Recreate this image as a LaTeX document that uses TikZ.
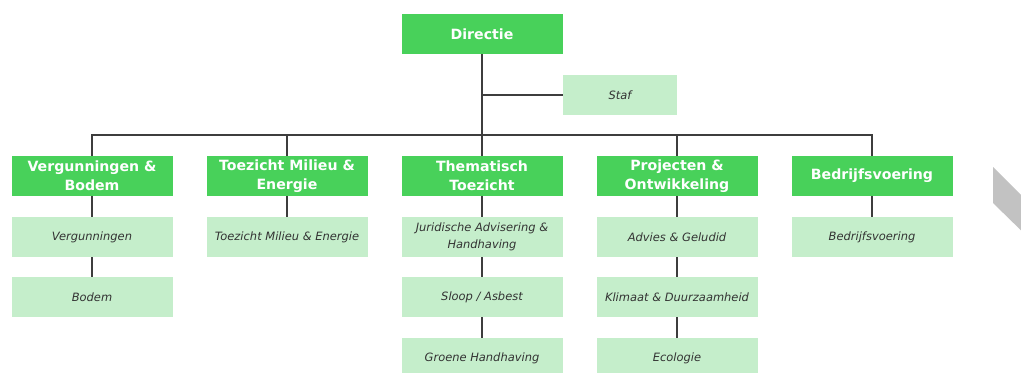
\documentclass[tikz,border=0pt]{standalone}
\usepackage{fontspec}
\setmainfont{DejaVu Sans}
\usepackage{tikz}
\usetikzlibrary{positioning, calc}
\definecolor{deptGreen}{RGB}{72,209,90}
\definecolor{unitGreen}{RGB}{197,238,203}
\definecolor{lineGray}{gray}{0.24}
\definecolor{unitText}{gray}{0.2}
\definecolor{arrowGray}{gray}{0.76}
\tikzset{
    headBox/.style={fill=deptGreen, text=white, minimum width=120.75pt, minimum height=30pt,
        inner sep=0pt, align=center, font=\fontsize{10.6}{14.5}\selectfont\bfseries},
    unitBox/.style={fill=unitGreen, text=unitText, minimum width=120.75pt, minimum height=30pt,
        inner sep=0pt, align=center, font=\fontsize{8.6}{12.5}\selectfont\itshape},
    link/.style={draw=lineGray, line width=1.3pt}
}

\begin{document}
\begin{tikzpicture}[x=0.75pt, y=-0.75pt]
    \clip (0,0) rectangle (1021,372);
    \fill[white] (0,0) rectangle (1021,372);
    % top
    \node[headBox] (dir) at (482,34) {Directie};
    \node[unitBox, minimum width=85.5pt] (staf) at (620,95) {Staf};
    \coordinate (bus) at (482,135);
    % departments
    \node[headBox] (vb)  at (92,176)  {Vergunningen \&\\Bodem};
    \node[headBox] (tme) at (287,176) {Toezicht Milieu \&\\Energie};
    \node[headBox] (tt)  at (482,176) {Thematisch\\Toezicht};
    \node[headBox] (po)  at (677,176) {Projecten \&\\Ontwikkeling};
    \node[headBox] (bv)  at (872,176) {Bedrijfsvoering};
    % units
    \node[unitBox] (verg)   at (92,237)  {Vergunningen};
    \node[unitBox] (bodem)  at (92,297)  {Bodem};
    \node[unitBox] (tmeSub) at (287,237) {Toezicht Milieu \& Energie};
    \node[unitBox] (jah)    at (482,237) {Juridische Advisering \&\\Handhaving};
    \node[unitBox] (sloop)  at (482,297) {Sloop / Asbest};
    \node[unitBox] (groen)  at (482,358) {Groene Handhaving};
    \node[unitBox] (adv)    at (677,237) {Advies \& Geludid};
    \node[unitBox] (klim)   at (677,297) {Klimaat \& Duurzaamheid};
    \node[unitBox] (eco)    at (677,358) {Ecologie};
    \node[unitBox] (bvSub)  at (872,237) {Bedrijfsvoering};
    % connectors
    \draw[link] (dir) -- (tt);
    \draw[link] (staf.west) -- (dir.south |- staf.west);
    \draw[link] (vb.north) |- (bus) -| (bv.north);
    \draw[link] (tme.north) -- (tme.north |- bus);
    \draw[link] (po.north) -- (po.north |- bus);
    \draw[link] (vb) -- (verg);
    \draw[link] (verg) -- (bodem);
    \draw[link] (tme) -- (tmeSub);
    \draw[link] (tt) -- (jah);
    \draw[link] (jah) -- (sloop);
    \draw[link] (sloop) -- (groen);
    \draw[link] (po) -- (adv);
    \draw[link] (adv) -- (klim);
    \draw[link] (klim) -- (eco);
    \draw[link] (bv) -- (bvSub);
    % chevron at the edge
    \fill[arrowGray] (993,167) -- (1035,209) -- (1035,244) -- (993,203) -- cycle;
\end{tikzpicture}
\end{document}
